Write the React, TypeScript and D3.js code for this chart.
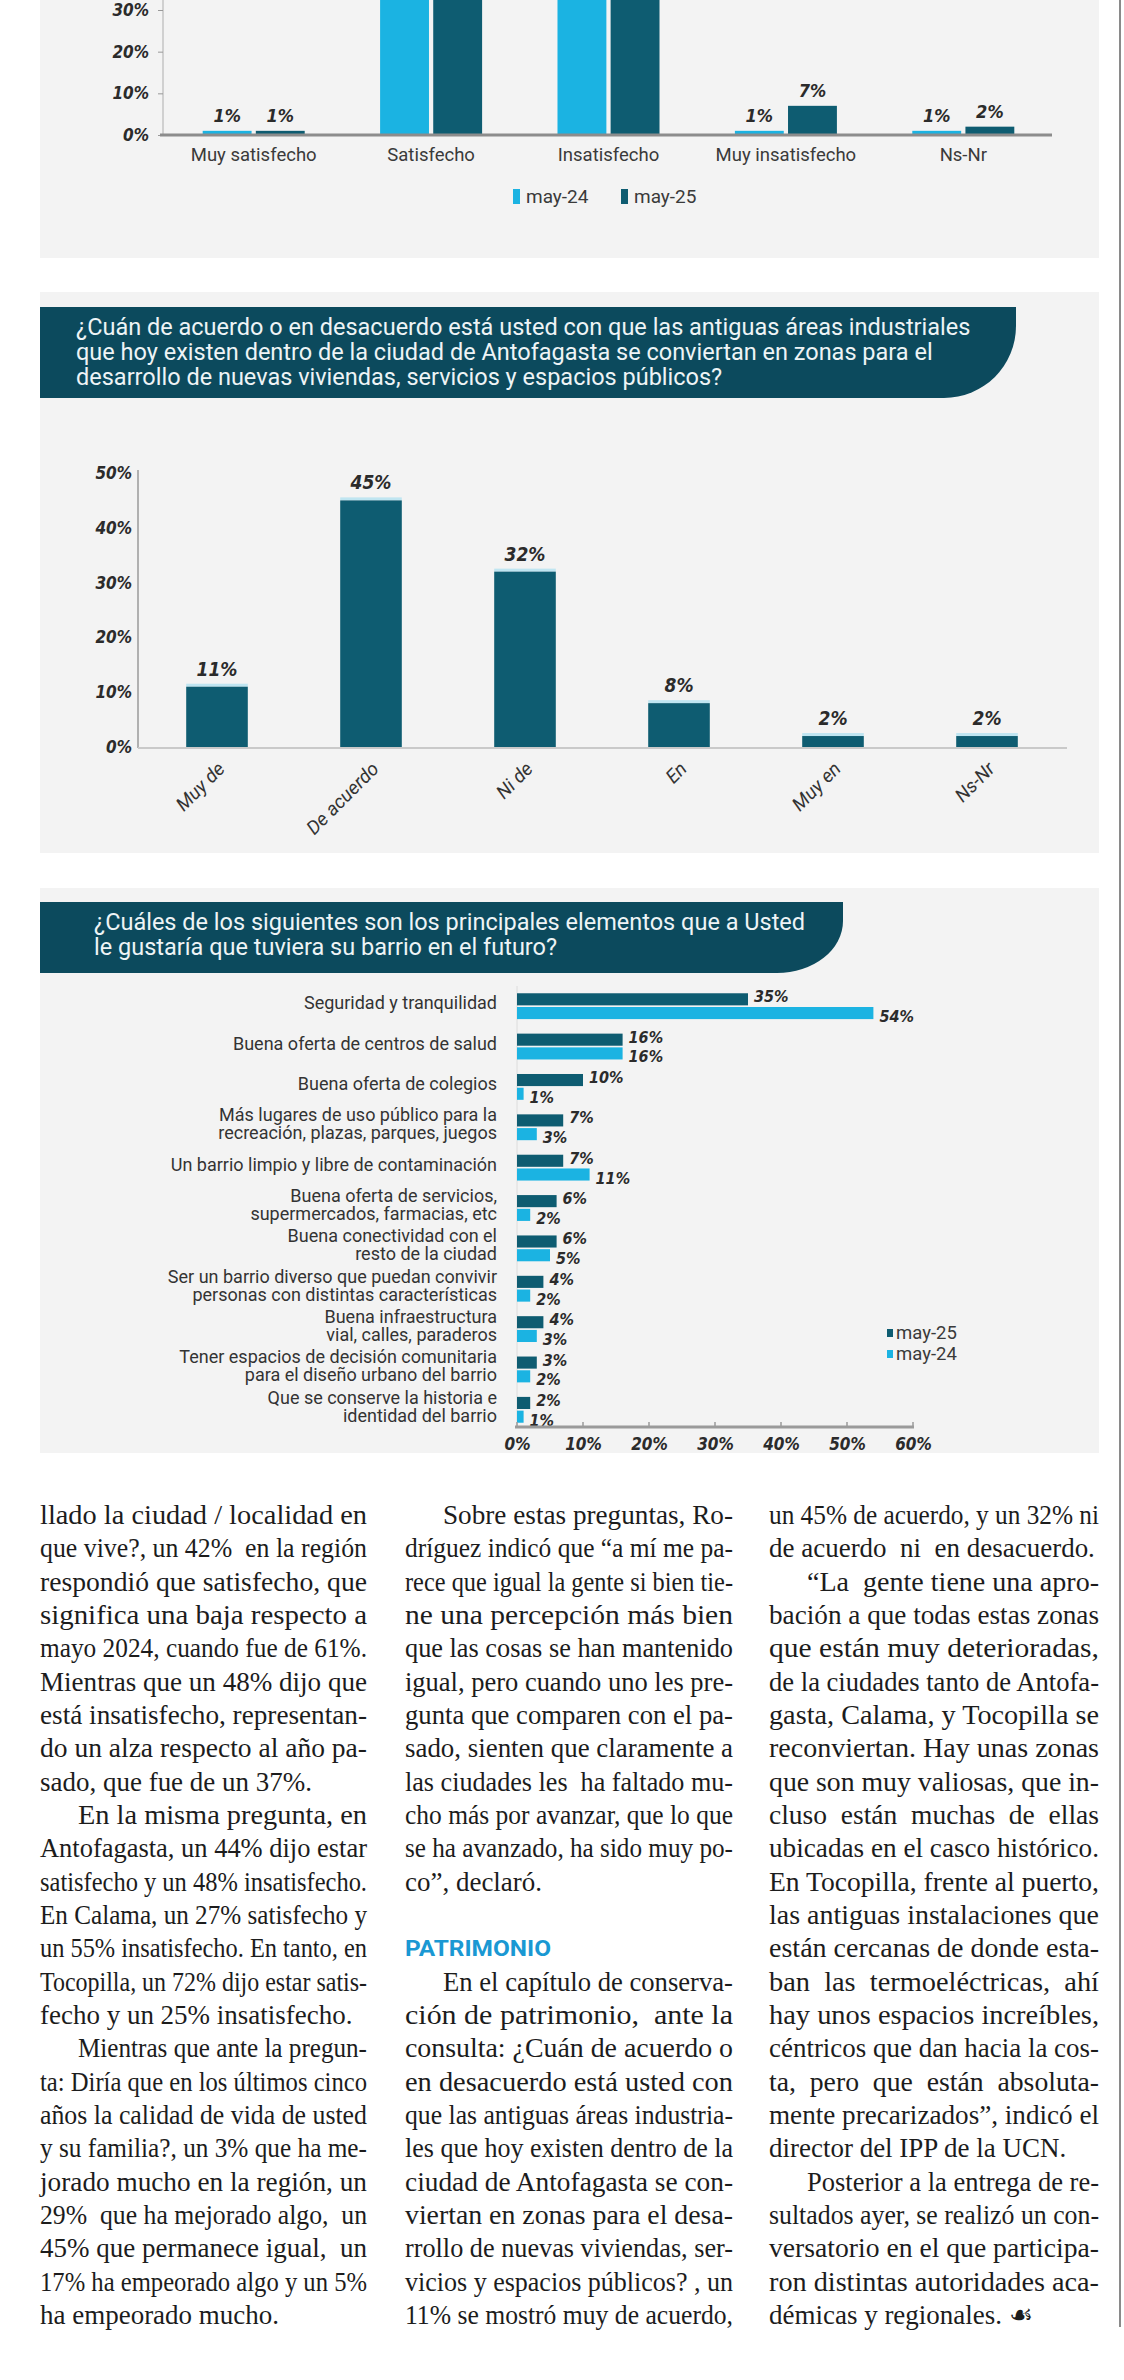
import { useEffect, useRef } from 'react';
import * as d3 from 'd3';

// --- chart 1: satisfacción (top panel, cropped) ---
const SAT_CATEGORIES = ['Muy satisfecho', 'Satisfecho', 'Insatisfecho', 'Muy insatisfecho', 'Ns-Nr'];
const SAT_SERIES = ['may-24', 'may-25'];
const SAT_MAY24 = [1, 61, 37, 1, 1];
const SAT_MAY25 = [1, 42, 48, 7, 2];
const SAT_TICKS = [0, 10, 20, 30];

// --- chart 2: antiguas áreas industriales ---
const AGREE_TITLE = [
  '¿Cuán de acuerdo o en desacuerdo está usted con que las antiguas áreas industriales',
  'que hoy existen dentro de la ciudad de Antofagasta se conviertan en zonas para el',
  'desarrollo de nuevas viviendas, servicios y espacios públicos?',
];
const AGREE_CATEGORIES = ['Muy de', 'De acuerdo', 'Ni de', 'En', 'Muy en', 'Ns-Nr'];
const AGREE_VALUES = [11, 45, 32, 8, 2, 2];
const AGREE_TICKS = [0, 10, 20, 30, 40, 50];

// --- chart 3: elementos del barrio ---
const NEIGH_TITLE = [
  '¿Cuáles de los siguientes son los principales elementos que a Usted',
  'le gustaría que tuviera su barrio en el futuro?',
];
const NEIGH_CATEGORIES = [
  ['Seguridad y tranquilidad'],
  ['Buena oferta de centros de salud'],
  ['Buena oferta de colegios'],
  ['Más lugares de uso público para la', 'recreación, plazas, parques, juegos'],
  ['Un barrio limpio y libre de contaminación'],
  ['Buena oferta de servicios,', 'supermercados, farmacias, etc'],
  ['Buena conectividad con el', 'resto de la ciudad'],
  ['Ser un barrio diverso que puedan convivir', 'personas con distintas características'],
  ['Buena infraestructura', 'vial, calles, paraderos'],
  ['Tener espacios de decisión comunitaria', 'para el diseño urbano del barrio'],
  ['Que se conserve la historia e', 'identidad del barrio'],
];
const NEIGH_SERIES = ['may-25', 'may-24'];
const NEIGH_MAY25 = [35, 16, 10, 7, 7, 6, 6, 4, 4, 3, 2];
const NEIGH_MAY24 = [54, 16, 1, 3, 11, 2, 5, 2, 3, 2, 1];
const NEIGH_TICKS = [0, 10, 20, 30, 40, 50, 60];

// --- article text, three columns ---
type Block = { kind: 'p'; indent: boolean; ends: boolean; lines: string[] } | { kind: 'gap' } | { kind: 'head'; text: string };

const COLUMN_1: Block[] = [
  {
    kind: 'p',
    indent: false,
    ends: true,
    lines: [
      'llado la ciudad / localidad en',
      'que vive?, un 42%  en la región',
      'respondió que satisfecho, que',
      'significa una baja respecto a',
      'mayo 2024, cuando fue de 61%.',
      'Mientras que un 48% dijo que',
      'está insatisfecho, representan-',
      'do un alza respecto al año pa-',
      'sado, que fue de un 37%.',
    ],
  },
  {
    kind: 'p',
    indent: true,
    ends: true,
    lines: [
      'En la misma pregunta, en',
      'Antofagasta, un 44% dijo estar',
      'satisfecho y un 48% insatisfecho.',
      'En Calama, un 27% satisfecho y',
      'un 55% insatisfecho. En tanto, en',
      'Tocopilla, un 72% dijo estar satis-',
      'fecho y un 25% insatisfecho.',
    ],
  },
  {
    kind: 'p',
    indent: true,
    ends: true,
    lines: [
      'Mientras que ante la pregun-',
      'ta: Diría que en los últimos cinco',
      'años la calidad de vida de usted',
      'y su familia?, un 3% que ha me-',
      'jorado mucho en la región, un',
      '29%  que ha mejorado algo,  un',
      '45% que permanece igual,  un',
      '17% ha empeorado algo y un 5%',
      'ha empeorado mucho.',
    ],
  },
];

const COLUMN_2: Block[] = [
  {
    kind: 'p',
    indent: true,
    ends: true,
    lines: [
      'Sobre estas preguntas, Ro-',
      'dríguez indicó que “a mí me pa-',
      'rece que igual la gente si bien tie-',
      'ne una percepción más bien',
      'que las cosas se han mantenido',
      'igual, pero cuando uno les pre-',
      'gunta que comparen con el pa-',
      'sado, sienten que claramente a',
      'las ciudades les  ha faltado mu-',
      'cho más por avanzar, que lo que',
      'se ha avanzado, ha sido muy po-',
      'co”, declaró.',
    ],
  },
  { kind: 'gap' },
  { kind: 'head', text: 'PATRIMONIO' },
  {
    kind: 'p',
    indent: true,
    ends: false,
    lines: [
      'En el capítulo de conserva-',
      'ción de patrimonio,  ante la',
      'consulta: ¿Cuán de acuerdo o',
      'en desacuerdo está usted con',
      'que las antiguas áreas industria-',
      'les que hoy existen dentro de la',
      'ciudad de Antofagasta se con-',
      'viertan en zonas para el desa-',
      'rrollo de nuevas viviendas, ser-',
      'vicios y espacios públicos? , un',
      '11% se mostró muy de acuerdo,',
    ],
  },
];

const COLUMN_3: Block[] = [
  {
    kind: 'p',
    indent: false,
    ends: true,
    lines: ['un 45% de acuerdo, y un 32% ni', 'de acuerdo  ni  en desacuerdo.'],
  },
  {
    kind: 'p',
    indent: true,
    ends: true,
    lines: [
      '“La  gente tiene una apro-',
      'bación a que todas estas zonas',
      'que están muy deterioradas,',
      'de la ciudades tanto de Antofa-',
      'gasta, Calama, y Tocopilla se',
      'reconviertan. Hay unas zonas',
      'que son muy valiosas, que in-',
      'cluso  están  muchas  de  ellas',
      'ubicadas en el casco histórico.',
      'En Tocopilla, frente al puerto,',
      'las antiguas instalaciones que',
      'están cercanas de donde esta-',
      'ban  las  termoeléctricas,  ahí',
      'hay unos espacios increíbles,',
      'céntricos que dan hacia la cos-',
      'ta,  pero  que  están  absoluta-',
      'mente precarizados”, indicó el',
      'director del IPP de la UCN.',
    ],
  },
  {
    kind: 'p',
    indent: true,
    ends: true,
    lines: [
      'Posterior a la entrega de re-',
      'sultados ayer, se realizó un con-',
      'versatorio en el que participa-',
      'ron distintas autoridades aca-',
      'démicas y regionales. ☙',
    ],
  },
];

const COLUMNS = [COLUMN_1, COLUMN_2, COLUMN_3];

const WIDTH = 1124;
const HEIGHT = 2380;
const TEAL = '#0e5c71';
const CYAN = '#1bb3e2';
const HEADER = '#0c4a5d';
const PANEL = '#f3f3f3';
const INK = '#2b2b2b';
const SANS = "Roboto, 'Open Sans', sans-serif";
const NARROW = "'Liberation Sans Narrow', 'DejaVu Sans Condensed', Roboto, sans-serif";
const SERIF = "'Liberation Serif', 'DejaVu Serif', serif";

type Svg = d3.Selection<SVGSVGElement, unknown, null, undefined>;

function styleNumbers(sel: d3.Selection<any, any, any, any>, size: number) {
  sel
    .attr('fill', INK)
    .attr('font-family', NARROW)
    .attr('font-weight', 700)
    .attr('font-style', 'italic')
    .attr('font-size', size);
}

function drawHeader(svg: Svg, lines: string[], top: number, bottom: number, right: number, rx: number, ry: number, textX: number, firstBaseline: number) {
  svg
    .append('path')
    .attr('d', `M40,${top} H${right} V${bottom - ry} A${rx},${ry} 0 0 1 ${right - rx},${bottom} H40 Z`)
    .attr('fill', HEADER);
  svg
    .append('g')
    .selectAll('text')
    .data(lines)
    .join('text')
    .attr('x', textX)
    .attr('y', (_, i) => firstBaseline + i * 25)
    .attr('fill', '#eef4f6')
    .attr('font-family', SANS)
    .attr('font-size', 23.5)
    .text((d) => d);
}

function drawSatisfaction(svg: Svg) {
  svg.append('rect').attr('x', 40).attr('y', 0).attr('width', 1059).attr('height', 258).attr('fill', PANEL);

  const x0 = d3.scaleBand<string>().domain(SAT_CATEGORIES).range([165, 1052]).paddingInner(0.425).paddingOuter(0.2125);
  const x1 = d3.scaleBand<string>().domain(SAT_SERIES).range([0, x0.bandwidth()]).paddingInner(0.08);
  const y = d3.scaleLinear().domain([0, 30]).range([135, 10]);
  const color = d3.scaleOrdinal<string, string>().domain(SAT_SERIES).range([CYAN, TEAL]);

  const rows = SAT_CATEGORIES.map((category, i) => ({
    category,
    values: [
      { series: 'may-24', value: SAT_MAY24[i] },
      { series: 'may-25', value: SAT_MAY25[i] },
    ],
  }));

  // vertical axis rule
  svg.append('line').attr('x1', 163).attr('x2', 163).attr('y1', 0).attr('y2', 135).attr('stroke', '#c4c4c4').attr('stroke-width', 1.5);

  const yAxis = svg
    .append('g')
    .attr('transform', 'translate(163,0)')
    .call(d3.axisLeft(y).tickValues(SAT_TICKS).tickSize(5).tickPadding(9).tickFormat((d) => `${d}%`));
  yAxis.select('.domain').remove();
  yAxis.selectAll('line').attr('stroke', '#999');
  styleNumbers(yAxis.selectAll('text'), 17);

  const groups = svg
    .append('g')
    .selectAll('g')
    .data(rows)
    .join('g')
    .attr('transform', (d) => `translate(${x0(d.category)},0)`);

  groups
    .selectAll('rect')
    .data((d) => d.values)
    .join('rect')
    .attr('x', (d) => x1(d.series)!)
    .attr('y', (d) => y(d.value))
    .attr('width', x1.bandwidth())
    .attr('height', (d) => y(0) - y(d.value))
    .attr('fill', (d) => color(d.series));

  const values = groups
    .selectAll('text')
    .data((d) => d.values.filter((v) => v.value < 30))
    .join('text')
    .attr('x', (d) => x1(d.series)! + x1.bandwidth() / 2)
    .attr('y', (d) => y(d.value) - 9)
    .attr('text-anchor', 'middle')
    .text((d) => `${d.value}%`);
  styleNumbers(values, 18);

  svg.append('line').attr('x1', 160).attr('x2', 1052).attr('y1', 135).attr('y2', 135).attr('stroke', '#8c8c8c').attr('stroke-width', 3);

  svg
    .append('g')
    .selectAll('text')
    .data(SAT_CATEGORIES)
    .join('text')
    .attr('x', (d) => x0(d)! + x0.bandwidth() / 2)
    .attr('y', 161)
    .attr('text-anchor', 'middle')
    .attr('fill', '#3a3a3a')
    .attr('font-family', SANS)
    .attr('font-size', 18.5)
    .text((d) => d);

  const legend = svg
    .append('g')
    .selectAll('g')
    .data(SAT_SERIES)
    .join('g')
    .attr('transform', (_, i) => `translate(${513 + i * 108},189)`);
  legend.append('rect').attr('width', 7).attr('height', 15).attr('fill', (d) => color(d));
  legend
    .append('text')
    .attr('x', 13)
    .attr('y', 14)
    .attr('fill', '#3a3a3a')
    .attr('font-family', SANS)
    .attr('font-size', 19)
    .text((d) => d);
}

function drawAgreement(svg: Svg) {
  svg.append('rect').attr('x', 40).attr('y', 292).attr('width', 1059).attr('height', 561).attr('fill', PANEL);
  drawHeader(svg, AGREE_TITLE, 307, 398, 1016, 72, 72, 76, 335);

  const x = d3.scaleBand<string>().domain(AGREE_CATEGORIES).range([140, 1064]).paddingInner(0.6).paddingOuter(0.3);
  const y = d3.scaleLinear().domain([0, 50]).range([747, 473]);

  svg.append('line').attr('x1', 138).attr('x2', 138).attr('y1', 470).attr('y2', 748).attr('stroke', '#9a9a9a').attr('stroke-width', 1.5);
  svg.append('line').attr('x1', 138).attr('x2', 1067).attr('y1', 748).attr('y2', 748).attr('stroke', '#c9c9c9').attr('stroke-width', 2);

  const yAxis = svg
    .append('g')
    .attr('transform', 'translate(138,0)')
    .call(d3.axisLeft(y).tickValues(AGREE_TICKS).tickSize(0).tickPadding(6).tickFormat((d) => `${d}%`));
  yAxis.select('.domain').remove();
  styleNumbers(yAxis.selectAll('text'), 17);

  const data = AGREE_CATEGORIES.map((category, i) => ({ category, value: AGREE_VALUES[i] }));

  const bars = svg.append('g');
  bars
    .selectAll('rect.cap')
    .data(data)
    .join('rect')
    .attr('class', 'cap')
    .attr('x', (d) => x(d.category)!)
    .attr('y', (d) => y(d.value) - 3)
    .attr('width', x.bandwidth())
    .attr('height', 3)
    .attr('fill', '#bfe5f1');
  bars
    .selectAll('rect.bar')
    .data(data)
    .join('rect')
    .attr('class', 'bar')
    .attr('x', (d) => x(d.category)!)
    .attr('y', (d) => y(d.value))
    .attr('width', x.bandwidth())
    .attr('height', (d) => y(0) - y(d.value))
    .attr('fill', TEAL);
  const values = bars
    .selectAll('text')
    .data(data)
    .join('text')
    .attr('x', (d) => x(d.category)! + x.bandwidth() / 2)
    .attr('y', (d) => y(d.value) - 11)
    .attr('text-anchor', 'middle')
    .text((d) => `${d.value}%`);
  styleNumbers(values, 19);

  svg
    .append('g')
    .selectAll('text')
    .data(AGREE_CATEGORIES)
    .join('text')
    .attr('transform', (d) => `translate(${x(d)! + x.bandwidth() / 2 + 9},770) rotate(-45)`)
    .attr('text-anchor', 'end')
    .attr('fill', '#333')
    .attr('font-family', SANS)
    .attr('font-style', 'italic')
    .attr('font-size', 19)
    .text((d) => d);
}

function drawNeighbourhood(svg: Svg) {
  svg.append('rect').attr('x', 40).attr('y', 888).attr('width', 1059).attr('height', 565).attr('fill', PANEL);
  drawHeader(svg, NEIGH_TITLE, 902, 973, 843, 66, 52, 94, 930);

  const indices = NEIGH_CATEGORIES.map((_, i) => i);
  const y0 = d3.scaleBand<number>().domain(indices).range([986, 1430]).paddingInner(0.36).paddingOuter(0.18);
  const y1 = d3.scaleBand<string>().domain(NEIGH_SERIES).range([0, y0.bandwidth()]).paddingInner(0.12);
  const x = d3.scaleLinear().domain([0, 60]).range([517, 913]);
  const color = d3.scaleOrdinal<string, string>().domain(NEIGH_SERIES).range([TEAL, CYAN]);

  svg.append('line').attr('x1', 517).attr('x2', 517).attr('y1', 986).attr('y2', 1427).attr('stroke', '#dcdcdc').attr('stroke-width', 1);

  const rows = indices.map((i) => ({
    index: i,
    label: NEIGH_CATEGORIES[i],
    values: [
      { series: 'may-25', value: NEIGH_MAY25[i] },
      { series: 'may-24', value: NEIGH_MAY24[i] },
    ],
  }));

  const groups = svg
    .append('g')
    .selectAll('g')
    .data(rows)
    .join('g')
    .attr('transform', (d) => `translate(0,${y0(d.index)})`);

  groups
    .selectAll('rect')
    .data((d) => d.values)
    .join('rect')
    .attr('x', x(0))
    .attr('y', (d) => y1(d.series)!)
    .attr('width', (d) => x(d.value) - x(0))
    .attr('height', y1.bandwidth())
    .attr('fill', (d) => color(d.series));

  // dark label sits a little high, light label a little low, as in the print
  const values = groups
    .selectAll('text.value')
    .data((d) => d.values)
    .join('text')
    .attr('class', 'value')
    .attr('x', (d) => x(d.value) + 6)
    .attr('y', (d, i) => y1(d.series)! + y1.bandwidth() / 2 + (i === 0 ? 3 : 9))
    .text((d) => `${d.value}%`);
  styleNumbers(values, 16);

  const labels = groups
    .append('text')
    .attr('text-anchor', 'end')
    .attr('fill', '#333')
    .attr('font-family', SANS)
    .attr('font-size', 18)
    .attr('transform', (d) => `translate(497,${y0.bandwidth() / 2 - 3 - (d.label.length - 1) * 9})`);
  labels
    .selectAll('tspan')
    .data((d) => d.label)
    .join('tspan')
    .attr('x', 0)
    .attr('y', (_, i) => i * 18 + 6)
    .text((d) => d);

  const xAxis = svg
    .append('g')
    .attr('transform', 'translate(0,1427)')
    .call(d3.axisBottom(x).tickValues(NEIGH_TICKS).tickSize(0).tickPadding(11).tickFormat((d) => `${d}%`));
  xAxis.select('.domain').remove();
  styleNumbers(xAxis.selectAll('text'), 17);
  svg.append('line').attr('x1', 515).attr('x2', 914).attr('y1', 1427).attr('y2', 1427).attr('stroke', '#9a9a9a').attr('stroke-width', 3);
  svg
    .append('g')
    .selectAll('line')
    .data(NEIGH_TICKS)
    .join('line')
    .attr('x1', (d) => x(d))
    .attr('x2', (d) => x(d))
    .attr('y1', 1422)
    .attr('y2', 1427)
    .attr('stroke', '#9a9a9a')
    .attr('stroke-width', 1.5);

  const legend = svg
    .append('g')
    .selectAll('g')
    .data(NEIGH_SERIES)
    .join('g')
    .attr('transform', (_, i) => `translate(887,${1325 + i * 21})`);
  legend.append('rect').attr('y', 4).attr('width', 6).attr('height', 8).attr('fill', (d) => color(d));
  legend
    .append('text')
    .attr('x', 9)
    .attr('y', 14)
    .attr('fill', '#3a3a3a')
    .attr('font-family', SANS)
    .attr('font-size', 18.5)
    .text((d) => d);
}

function drawArticle(svg: Svg) {
  const colX = [40, 405, 769];
  const colW = [327, 328, 330];
  const lineY = (i: number) => 1524 + i * 33.33;
  const indent = 38;
  const measured: { node: SVGTextElement; natural: number; target: number | null }[] = [];

  COLUMNS.forEach((blocks, c) => {
    let row = 0;
    blocks.forEach((block) => {
      if (block.kind === 'gap') {
        row += 1;
        return;
      }
      if (block.kind === 'head') {
        svg
          .append('text')
          .attr('x', colX[c])
          .attr('y', lineY(row) - 1)
          .attr('fill', '#1a98d3')
          .attr('font-family', SANS)
          .attr('font-weight', 700)
          .attr('font-size', 22)
          .attr('textLength', 146)
          .attr('lengthAdjust', 'spacingAndGlyphs')
          .text(block.text);
        row += 1;
        return;
      }
      block.lines.forEach((line, i) => {
        const offset = block.indent && i === 0 ? indent : 0;
        const justified = !(block.ends && i === block.lines.length - 1);
        const text = svg
          .append('text')
          .attr('x', colX[c] + offset)
          .attr('y', lineY(row))
          .attr('fill', '#1c1c1c')
          .attr('font-family', SERIF)
          .attr('font-size', 27)
          .attr('xml:space', 'preserve')
          .text(line);
        const node = text.node()!;
        measured.push({ node, natural: node.getComputedTextLength(), target: justified ? colW[c] - offset : null });
        row += 1;
      });
    });
  });

  // shared compression for the unjustified paragraph endings
  const ratios = measured.filter((m) => m.target !== null && m.natural > 0).map((m) => m.target! / m.natural);
  const ratio = d3.median(ratios) ?? 1;
  measured.forEach((m) => {
    const length = m.target ?? m.natural * ratio;
    d3.select(m.node).attr('textLength', length).attr('lengthAdjust', 'spacingAndGlyphs');
  });
}

export default function App() {
  const svgRef = useRef<SVGSVGElement | null>(null);

  useEffect(() => {
    const svgElement = svgRef.current;
    if (!svgElement) {
      return;
    }
    const svg = d3.select(svgElement) as Svg;
    svg.selectAll('*').remove();
    svg.append('rect').attr('width', WIDTH).attr('height', HEIGHT).attr('fill', '#ffffff');
    svg.append('line').attr('x1', 1120).attr('x2', 1120).attr('y1', 0).attr('y2', 2327).attr('stroke', '#8a8a8a').attr('stroke-width', 2);

    drawSatisfaction(svg);
    drawAgreement(svg);
    drawNeighbourhood(svg);
    drawArticle(svg);
  }, []);

  return (
    <div style={{ position: 'absolute', left: 0, top: 0 }}>
      <svg ref={svgRef} width={WIDTH} height={HEIGHT} style={{ display: 'block' }} aria-label="Encuesta barrios y patrimonio" />
    </div>
  );
}
